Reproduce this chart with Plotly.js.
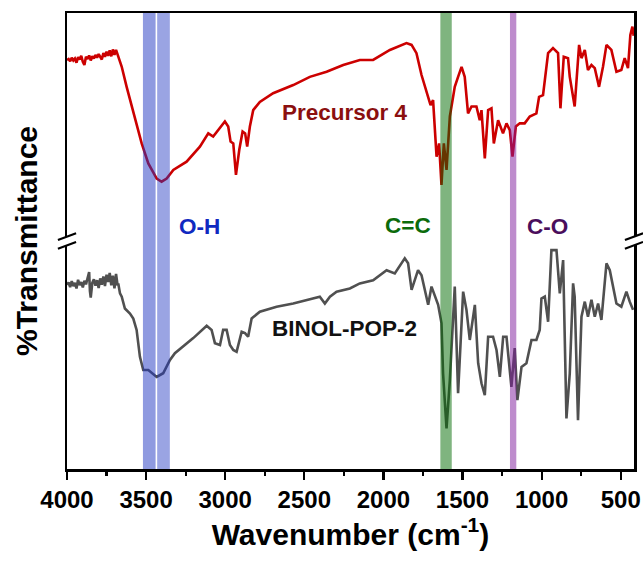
<!DOCTYPE html>
<html>
<head>
<meta charset="utf-8">
<script src="https://cdn.plot.ly/plotly-3.0.1.min.js"></script>
<style>
html,body{margin:0;padding:0;background:#fff;}
#chart{width:643px;height:563px;}
</style>
</head>
<body>
<div id="chart"></div>
<script>
// Precursor 4 (red) - wavenumber (cm-1) and offset %T
const precursorWn = [4000,3990,3980,3970,3960,3950,3940,3930,3920,3910,3900,3890,3880,3870,3860,3850,3840,3830,3820,3810,3800,3790,3780,3770,3760,3750,3740,3730,3720,3710,3700,3690,3680,3670,3654,3623,3591,3560,3528,3486,3433,3402,3370,3328,3244,3160,3107,3076,3033,3002,2981,2966,2949,2932,2911,2890,2874,2861,2844,2823,2781,2697,2570,2465,2359,2254,2149,2065,1959,1854,1822,1791,1759,1717,1702,1686,1664,1648,1633,1618,1601,1580,1549,1528,1506,1486,1465,1443,1412,1391,1380,1359,1338,1317,1302,1275,1244,1222,1201,1184,1163,1138,1107,1075,1033,1016,991,959,928,896,881,860,833,822,791,763,748,727,707,685,664,637,612,590,559,527,496,475,454,439,426,418];
const precursorT  = [89.7,89.9,89.4,90.2,89.6,90.0,89.1,90.3,89.8,90.6,89.3,88.6,90.4,89.9,90.7,89.6,90.5,90.0,90.8,90.2,91.0,90.3,89.8,91.2,90.4,91.5,90.6,91.8,90.5,92.0,90.8,91.9,90.9,90.2,88.2,83.8,79.5,75.1,71.4,67.0,63.7,63.0,63.7,65.6,67.4,70.7,73.6,72.9,74.7,76.2,75.1,71.8,71.4,64.5,70.0,74.0,73.6,70.7,75.1,78.7,80.5,82.4,84.2,86.0,87.1,88.6,89.7,89.7,91.9,93.4,93.0,91.2,86.4,81.6,79.8,80.9,68.5,71.4,62.3,71.4,65.6,77.3,83.8,86.0,88.2,86.0,78.0,79.5,79.5,76.5,78.7,68.1,78.7,79.1,71.4,76.5,73.6,75.8,74.3,68.5,75.1,75.8,75.8,77.3,78.0,81.6,82.0,91.2,92.3,91.2,79.1,90.4,90.1,86.0,79.5,93.0,90.1,91.9,87.5,88.6,87.9,83.8,88.2,93.0,91.9,87.1,87.5,90.1,87.9,95.2,97.0,95.0];

// BINOL-POP-2 (gray)
const binolWn = [4000,3990,3980,3970,3960,3950,3940,3930,3920,3910,3900,3890,3880,3870,3860,3855,3850,3840,3830,3820,3810,3800,3790,3780,3770,3760,3750,3740,3730,3720,3710,3700,3690,3680,3676,3665,3654,3634,3602,3581,3560,3539,3518,3486,3433,3392,3349,3318,3202,3117,3086,3065,3033,3013,2991,2970,2949,2928,2896,2875,2855,2833,2781,2675,2570,2402,2370,2338,2296,2212,2149,2065,1980,1928,1865,1844,1822,1781,1759,1717,1696,1654,1633,1623,1601,1580,1549,1528,1496,1475,1454,1422,1401,1380,1359,1338,1307,1285,1264,1243,1222,1191,1170,1153,1127,1096,1064,1033,1012,1001,980,959,938,906,885,864,843,822,801,791,770,748,727,707,685,664,643,622,590,569,527,496,464,443,422];
const binolT  = [40.4,40.9,39.9,41.2,40.1,40.8,39.6,41.5,40.3,41.0,39.8,41.3,40.5,42.0,43.2,39.0,37.6,40.8,41.6,40.2,41.4,39.7,41.8,40.4,42.2,40.1,42.6,41.0,43.0,40.3,42.4,39.6,42.8,40.2,40.7,38.5,37.8,35.2,34.1,33.0,30.5,24.6,21.7,21.7,20.2,21.0,23.9,25.4,28.7,31.4,30.5,27.6,27.2,30.5,30.5,27.2,26.1,25.7,30.1,29.8,29.0,33.0,34.5,35.6,36.3,37.8,36.3,37.8,38.9,39.6,40.7,41.4,43.6,42.9,46.2,45.1,39.3,43.6,42.5,36.0,40.0,36.0,32.0,21.0,8.9,19.5,40.0,16.6,38.9,34.9,28.3,36.0,23.2,18.8,16.2,29.0,29.0,26.1,20.2,29.0,29.0,18.0,26.5,15.1,22.4,23.2,28.3,28.3,30.5,37.4,37.8,32.3,48.0,48.0,38.5,45.8,11.1,21.0,40.7,37.8,10.7,33.4,36.7,33.4,37.1,33.4,36.3,32.7,45.1,43.6,36.3,35.6,38.9,36.7,34.9];

// Highlighted absorption bands (cm-1)
const bandOH1 = [3520, 3440];
const bandOH2 = [3430, 3350];
const bandCC  = [1640, 1568];
const bandCO  = [1200, 1160];

const tickVals = [4000,3500,3000,2500,2000,1500,1000,500];

const FONT = 'Liberation Sans, Arial, Helvetica, sans-serif';

const traces = [
  {x: precursorWn, y: precursorT, type: 'scatter', mode: 'lines',
   line: {color: '#cc0000', width: 2.6}, hoverinfo: 'skip', showlegend: false},
  {x: binolWn, y: binolT, type: 'scatter', mode: 'lines',
   line: {color: '#505050', width: 2.6}, hoverinfo: 'skip', showlegend: false}
];

function band(r, color) {
  return {type: 'rect', xref: 'x', yref: 'paper', x0: r[0], x1: r[1], y0: 0, y1: 1,
          fillcolor: color, line: {width: 0}, layer: 'above'};
}

// axis break marks (paper coordinates)
function breakMarks(px) {
  const dx = 0.016, dy = 0.0075, off = 0.0095, yc = 0.5;
  return [
    {type: 'path', xref: 'paper', yref: 'paper',
     path: `M ${px-dx} ${yc+off-dy} L ${px+dx} ${yc+off+dy} L ${px+dx} ${yc-off+dy} L ${px-dx} ${yc-off-dy} Z`,
     fillcolor: 'white', line: {width: 0}, layer: 'above'},
    {type: 'line', xref: 'paper', yref: 'paper', x0: px-dx, x1: px+dx, y0: yc+off-dy, y1: yc+off+dy,
     line: {color: 'black', width: 2.2}, layer: 'above'},
    {type: 'line', xref: 'paper', yref: 'paper', x0: px-dx, x1: px+dx, y0: yc-off-dy, y1: yc-off+dy,
     line: {color: 'black', width: 2.2}, layer: 'above'}
  ];
}

const shapes = [
  band(bandOH1, 'rgba(31,53,193,0.5)'),
  band(bandOH2, 'rgba(31,53,193,0.45)'),
  band(bandCC, 'rgba(0,105,0,0.5)'),
  band(bandCO, 'rgba(125,25,155,0.5)')
].concat(breakMarks(0), breakMarks(1));

function label(text, x, y, color) {
  return {text: text, x: x, y: y, xref: 'x', yref: 'y', showarrow: false,
          font: {family: FONT, size: 22.5, color: color, weight: 'bold'}};
}

const layout = {
  width: 643, height: 563,
  margin: {l: 67, r: 9, t: 13, b: 94},
  paper_bgcolor: 'white', plot_bgcolor: 'white',
  font: {family: FONT, color: 'black'},
  xaxis: {
    range: [4000, 416], autorange: false,
    tickvals: tickVals, ticktext: tickVals.map(String),
    ticks: 'outside', ticklen: 8, tickwidth: 2.2, tickcolor: 'black',
    minor: {dtick: 250, ticks: 'outside', ticklen: 4, tickwidth: 2.2, tickcolor: 'black'},
    showline: true, linewidth: 2.5, linecolor: 'black', mirror: true,
    showgrid: false, zeroline: false,
    tickfont: {family: FONT, size: 24, color: 'black', weight: 'bold'},
    title: {text: 'Wavenumber (cm<sup>-1</sup>)', standoff: 12,
            font: {family: FONT, size: 30, color: 'black', weight: 'bold'}}
  },
  yaxis: {
    range: [0, 100], autorange: false,
    showticklabels: false, ticks: '',
    showline: true, linewidth: 2.5, linecolor: 'black', mirror: true,
    showgrid: false, zeroline: false,
    title: {text: '%Transmittance', standoff: 18,
            font: {family: FONT, size: 30, color: 'black', weight: 'bold'}}
  },
  shapes: shapes,
  annotations: [
    label('Precursor 4', 2244, 78.1, '#8b0f0f'),
    label('BINOL-POP-2', 2244, 30.9, '#111111'),
    label('O-H', 3160, 53.1, '#1029c0'),
    label('C=C', 1846, 53.3, '#0b6b0b'),
    label('C-O', 961, 53.1, '#4a0e5c')
  ],
  showlegend: false
};

Plotly.newPlot('chart', traces, layout, {displayModeBar: false, staticPlot: true});
</script>
</body>
</html>
